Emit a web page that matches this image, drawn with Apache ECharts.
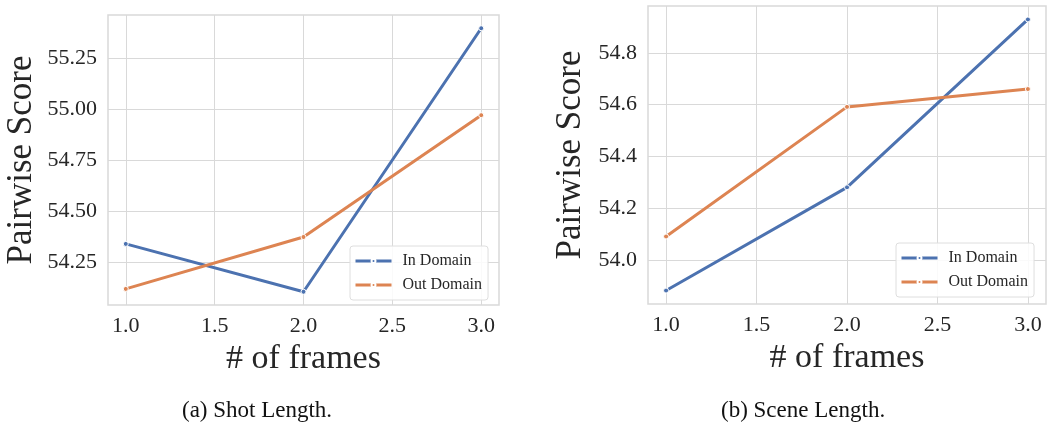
<!DOCTYPE html>
<html><head><meta charset="utf-8">
<script src="https://cdn.jsdelivr.net/npm/echarts@6/dist/echarts.min.js"></script>
<style>html,body{margin:0;padding:0;background:#fff}#c{width:1047px;height:423px}</style>
</head><body><div id="c"></div>
<script>
const frames = [1.0, 2.0, 3.0];
const shotIn = [54.338, 54.103, 55.397];
const shotOut = [54.117, 54.372, 54.970];
const sceneIn = [53.881, 54.280, 54.929];
const sceneOut = [54.090, 54.591, 54.660];
const xTicks = [1.0, 1.5, 2.0, 2.5, 3.0];
const shotYTicks = [54.25, 54.50, 54.75, 55.00, 55.25];
const sceneYTicks = [54.0, 54.2, 54.4, 54.6, 54.8];
const seriesNames = ['In Domain', 'Out Domain'];
const captions = ['(a) Shot Length.', '(b) Scene Length.'];

const BLUE = '#4C72B0', ORANGE = '#DD8452';
const FONT = '"Liberation Serif", "DejaVu Serif", serif';
const GRIDC = '#d9d9d9', TXT = '#262626';

function pairs(xs, ys){ return xs.map((x,i)=>[x, ys[i]]); }

function xAxisDef(idx){
  return {
    type:'value', gridIndex: idx, min:0.9, max:3.1,
    axisLine:{show:false}, axisTick:{show:false, customValues:xTicks},
    axisLabel:{customValues:xTicks, formatter:v=>v.toFixed(1), fontFamily:FONT, fontSize:22, color:TXT, margin:10},
    splitLine:{show:false},
    name:'# of frames', nameLocation:'middle', nameGap:37, nameMoveOverlap:false,
    nameTextStyle:{fontFamily:FONT, fontSize:34, color:TXT}
  };
}
function yAxisDef(idx, mn, mx, ticks, dec, gap){
  return {
    type:'value', gridIndex: idx, min:mn, max:mx,
    axisLine:{show:false}, axisTick:{show:false, customValues:ticks},
    axisLabel:{customValues:ticks, formatter:v=>v.toFixed(dec), fontFamily:FONT, fontSize:22, color:TXT, margin:11},
    splitLine:{show:false},
    name:'Pairwise Score', nameLocation:'middle', nameGap:gap, nameRotate:90, nameMoveOverlap:false,
    nameTextStyle:{fontFamily:FONT, fontSize:35, color:TXT}
  };
}
function gridSeries(idx, yTicks){
  return {
    type:'line', name:'_grid'+idx, xAxisIndex:idx, yAxisIndex:idx, data:[], silent:true, z:0,
    markLine:{
      silent:true, symbol:['none','none'], animation:false, z:0,
      label:{show:false}, emphasis:{disabled:true},
      lineStyle:{color:GRIDC, width:1, type:'solid'},
      data: xTicks.map(v=>({xAxis:v})).concat(yTicks.map(v=>({yAxis:v})))
    }
  };
}
function lineSeries(name, color, data, idx){
  return {
    type:'line', name, xAxisIndex:idx, yAxisIndex:idx, data,
    symbol:'circle', symbolSize:5, showSymbol:true,
    lineStyle:{color, width:3}, itemStyle:{color, borderColor:'#fff', borderWidth:1},
    emphasis:{disabled:true}, animation:false, z:3
  };
}
function legendDef(left, top){
  return {
    orient:'vertical', left, top, z:20,
    data: seriesNames.map(n=>({name:n})),
    backgroundColor:'rgba(255,255,255,0.85)', borderColor:'#dedede', borderWidth:1, borderRadius:3,
    padding:[6,6,6,4], itemGap:6, itemWidth:36, itemHeight:5,
    lineStyle:{width:3},
    textStyle:{fontFamily:FONT, fontSize:16, color:TXT, padding:[0,0,0,6], lineHeight:18},
    selectedMode:false
  };
}

const chart = echarts.init(document.getElementById('c'), null, {renderer:'canvas'});
chart.setOption({
  animation:false,
  backgroundColor:'#fff',
  grid:[
    {left:108, top:15, width:391, height:290, show:true, borderColor:GRIDC, borderWidth:1.5, backgroundColor:'#fff', outerBoundsMode:'none', containLabel:false},
    {left:648, top:6, width:398, height:298, show:true, borderColor:GRIDC, borderWidth:1.5, backgroundColor:'#fff', outerBoundsMode:'none', containLabel:false}
  ],
  xAxis:[xAxisDef(0), xAxisDef(1)],
  yAxis:[
    yAxisDef(0, 54.038, 55.462, shotYTicks, 2, 69),
    yAxisDef(1, 53.829, 54.981, sceneYTicks, 1, 60)
  ],
  legend:[legendDef(350, 246), legendDef(896, 243)],
  title: captions.map((t,i)=>({
    text:t, left: i===0 ? 177 : 716, top: 394,
    textStyle:{fontFamily:FONT, fontSize:23, fontWeight:'normal', color:'#111'}
  })),
  series:[
    gridSeries(0, shotYTicks),
    gridSeries(1, sceneYTicks),
    lineSeries(seriesNames[0], BLUE, pairs(frames, shotIn), 0),
    lineSeries(seriesNames[1], ORANGE, pairs(frames, shotOut), 0),
    lineSeries(seriesNames[0], BLUE, pairs(frames, sceneIn), 1),
    lineSeries(seriesNames[1], ORANGE, pairs(frames, sceneOut), 1)
  ]
});
</script></body></html>
